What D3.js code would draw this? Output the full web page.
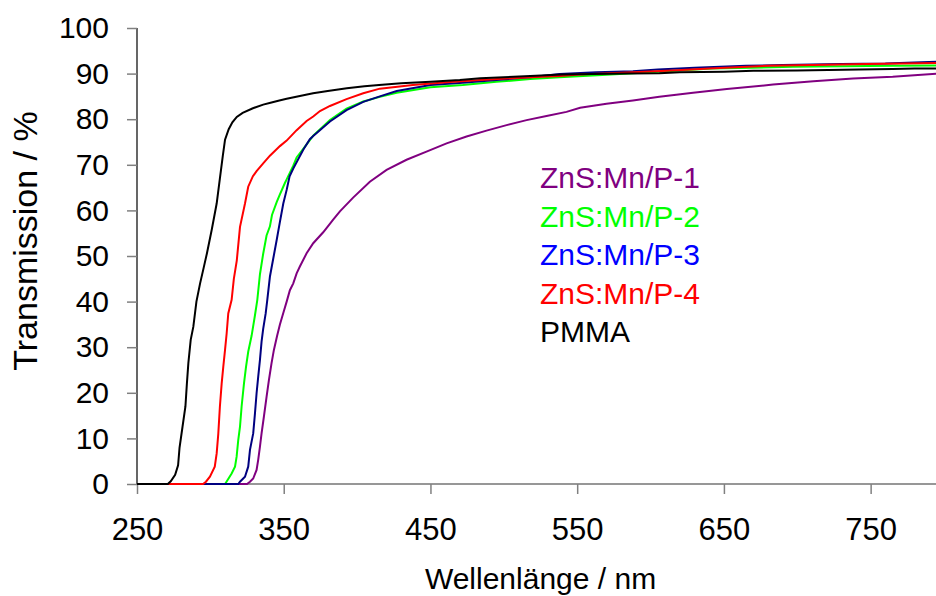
<!DOCTYPE html>
<html>
<head>
<meta charset="utf-8">
<script src="https://cdn.jsdelivr.net/npm/d3@7"></script>
<style>
  html, body { margin: 0; padding: 0; background: #fff; overflow: hidden; }
  svg { display: block; font-family: "Liberation Sans", Arial, sans-serif; }
</style>
</head>
<body>
<svg id="chart" width="936" height="596"></svg>
<script>
// Transmission spectra: [wavelength nm, transmission %]
const p1 = [[250,0],[325,0],[327,0.5],[329.2,1.2],[331.5,3.1],[332.6,5.3],[333.8,8.2],[334.9,11.1],[336.5,14.8],[338.3,19.1],[339.9,22.8],[341.7,26.5],[343.3,29.4],[345.5,32.5],[347.4,35],[349.7,37.5],[352,40],[354.2,42.5],[356.5,44],[358.8,46.2],[361,47.7],[365.6,50.6],[370.1,52.8],[376.9,55.2],[383.7,58],[388.3,59.8],[397.3,62.8],[408.7,66.3],[420.1,68.9],[433.7,71.1],[447.3,72.9],[461,74.7],[474.6,76.2],[488.2,77.5],[501.9,78.7],[515.5,79.8],[529.1,80.7],[542.7,81.6],[552,82.5],[570,83.4],[588,84.1],[606,84.9],[629,85.8],[652,86.6],[683.5,87.6],[711,88.3],[738,88.9],[765,89.3],[795,90]];
const p2 = [[250,0],[310,0],[311,0.5],[314.5,2.3],[316.8,3.8],[317.9,6],[319,9.6],[320.2,12.6],[321.3,17],[322.9,22],[324.3,25.7],[325.8,29],[328.1,32.5],[330.4,37],[332,40.4],[333.8,46],[336,50.5],[338.3,54.5],[340.6,56.5],[342,59],[345.2,61.8],[347.4,63.5],[350.8,66],[352,66.8],[356.5,69.8],[358.8,71.6],[363.3,73.5],[367.8,75.4],[370.1,76.4],[381.5,79.8],[392.8,82.3],[404.2,83.9],[415.5,84.9],[427,85.8],[450,87],[472,87.5],[495,88.2],[518,88.8],[538,89.2],[567,89.7],[600,90.3],[642,91.1],[697,91.5],[765,91.7],[795,91.8]];
const p3 = [[250,0],[319,0],[320.2,0.5],[323.6,1.6],[325.8,3.8],[327,7.5],[329.2,11.1],[330.4,15.5],[331.5,19.9],[332.6,23.5],[333.8,27.2],[334.9,31.2],[336,34],[337.7,37.4],[338.8,40.4],[340.6,45.5],[342.9,49.5],[345.2,53.5],[347.4,57.5],[349.7,61.5],[352,64.5],[354,67.5],[356.5,69.2],[363.3,73.3],[367.8,75.6],[370.1,76.3],[381.5,79.5],[392.8,82],[404.2,83.8],[415.5,85],[427,86.2],[450,87.5],[472,88],[495,88.6],[518,89.2],[538,89.9],[563,90.3],[588,90.5],[605,90.9],[630,91.3],[665,91.7],[690,91.9],[730,92.1],[760,92.2],[795,92.6]];
const p4 = [[250,0],[295,0],[297,0.5],[299.7,1.6],[303,3.8],[304.3,6.7],[305.4,11],[306.5,17],[307.7,22],[308.8,25.7],[310,29.4],[311.1,33],[312.2,37.4],[314.5,40.4],[316,45],[318,49],[320.2,56.4],[323.6,61.5],[325.8,65.2],[329,67.5],[331.5,68.6],[336,70.3],[340.6,72],[347.4,74.1],[352,75.3],[358.8,77.6],[365.6,79.6],[370.1,80.6],[374.7,81.8],[381.5,82.9],[392.8,84.4],[404.2,85.7],[415.5,86.7],[438,87.5],[461,88.1],[484,88.6],[518,89.2],[538,89.5],[552,89.8],[588,90.3],[615,90.7],[640,91.1],[679,91.7],[710,91.9],[747,92.1],[795,92.3]];
const pmma = [[250,0],[271,0],[273,0.6],[276,2],[278,4.1],[279,8],[281,12.5],[283,17],[284,22],[285,26.5],[286.6,31.6],[288.4,34.5],[290.5,40],[293,44],[295.5,47.5],[297.6,50.5],[300.9,55.7],[304.3,61.5],[306.5,67],[308.5,72],[310,75.5],[312.5,77.8],[315,79.3],[318,80.5],[322,81.4],[329,82.4],[336,83.2],[341,83.6],[347,84.1],[352,84.5],[361,85.1],[370,85.7],[380,86.2],[393,86.8],[405,87.2],[415,87.5],[430,87.9],[450,88.2],[470,88.6],[484,89],[500,89.2],[518,89.5],[540,89.8],[560,89.9],[585,90],[606,90.1],[620,90.3],[650,90.4],[670,90.6],[700,90.7],[742,90.9],[765,91],[780,91.1],[795,91.1]];

const seriesNames = ["ZnS:Mn/P-1", "ZnS:Mn/P-2", "ZnS:Mn/P-3", "ZnS:Mn/P-4", "PMMA"];
const seriesData = [p1, p2, p3, p4, pmma];
const seriesColors = ["#800080", "#00ff00", "#000080", "#ff0000", "#000000"];
const legendColors = ["#800080", "#00ff00", "#0000ff", "#ff0000", "#000000"];
const xTicks = [250, 350, 450, 550, 650, 750];
const yTicks = [0, 10, 20, 30, 40, 50, 60, 70, 80, 90, 100];
const xTitle = "Wellenlänge / nm";
const yTitle = "Transmission / %";

const svg = d3.select("#chart");
const x = d3.scaleLinear().domain([250, 800]).range([137, 944]);
const y = d3.scaleLinear().domain([0, 100]).range([484, 28]);

// y axis
const yAxis = svg.append("g").attr("transform", "translate(137,0)")
  .call(d3.axisLeft(y).tickValues(yTicks).tickSize(10).tickPadding(18).tickFormat(d3.format("d")));
yAxis.select(".domain").attr("stroke", "#000").attr("stroke-width", 1.2).attr("d", `M0,${y(100)}V${y(0)}`);
yAxis.selectAll(".tick line").attr("stroke", "#808080").attr("stroke-width", 1.5);
yAxis.selectAll(".tick text").attr("font-size", 30).attr("fill", "#000");

// x axis
const xAxis = svg.append("g").attr("transform", "translate(0,484)")
  .call(d3.axisBottom(x).tickValues(xTicks).tickSize(10).tickPadding(24).tickFormat(d3.format("d")));
xAxis.select(".domain").attr("stroke", "#303030").attr("stroke-width", 1.2).attr("d", `M${x(250)},0H${x(800)}`);
xAxis.selectAll(".tick line").attr("stroke", "#808080").attr("stroke-width", 1.5);
xAxis.selectAll(".tick text").attr("font-size", 31).attr("fill", "#000");

// series lines
const line = d3.line().x(d => x(d[0])).y(d => y(d[1]));
seriesData.forEach((data, i) => {
  svg.append("path").datum(data)
    .attr("fill", "none")
    .attr("stroke", seriesColors[i])
    .attr("stroke-width", 2)
    .attr("stroke-linejoin", "miter")
    .attr("d", line);
});

// legend
const legend = svg.append("g").attr("transform", "translate(540,0)");
seriesNames.forEach((name, i) => {
  legend.append("text")
    .attr("x", 0).attr("y", 188 + i * 38.6)
    .attr("font-size", 30)
    .attr("fill", legendColors[i])
    .text(name);
});

// axis titles
svg.append("text").attr("x", (x(250) + x(800)) / 2).attr("y", 589)
  .attr("text-anchor", "middle").attr("font-size", 30).text(xTitle);
svg.append("text").attr("transform", "translate(37,241) rotate(-90)")
  .attr("text-anchor", "middle").attr("font-size", 34).text(yTitle);
</script>
</body>
</html>
